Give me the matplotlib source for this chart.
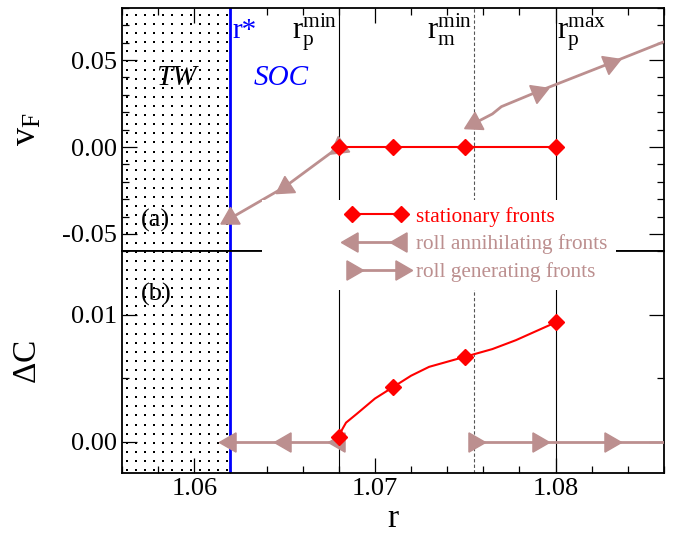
import numpy as np
import matplotlib
matplotlib.use('Agg')
import matplotlib.pyplot as plt
from matplotlib.lines import Line2D
from matplotlib.patches import Rectangle
from matplotlib.transforms import IdentityTransform
from matplotlib.ticker import MultipleLocator, FormatStrFormatter

plt.rcParams['font.family'] = ['Liberation Serif', 'DejaVu Serif']
plt.rcParams['mathtext.fontset'] = 'custom'
plt.rcParams['mathtext.rm'] = 'Liberation Serif'
plt.rcParams['mathtext.it'] = 'Liberation Serif:italic'
plt.rcParams['axes.unicode_minus'] = False

RED = '#ff0000'
ROSY = '#bc8f8f'
BLUE = '#0000ff'

# special r values
r_star = 1.062
r_p_min = 1.068
r_m_min = 1.0755
r_p_max = 1.080

# (a) front velocity
stat_r = [1.068, 1.071, 1.075, 1.080]
stat_v = [0.0, 0.0, 0.0, 0.0]
ann_r = [1.062, 1.065, 1.068]
ann_v = [-0.041, -0.023, 0.0]
gen_r = [1.0755, 1.0765, 1.077, 1.079, 1.083, 1.086]
gen_v = [0.0136, 0.0190, 0.0232, 0.0318, 0.0481, 0.0605]

# (b) Delta C
stat_dc = [0.0004, 0.0043, 0.0067, 0.0094]
stat_curve_r = [1.068, 1.0682, 1.0684, 1.069, 1.070, 1.071, 1.072, 1.073, 1.075, 1.0765, 1.0778, 1.080]
stat_curve_dc = [0.0004, 0.0010, 0.0015, 0.0022, 0.0034, 0.0043, 0.0052, 0.0059, 0.0067, 0.0073, 0.0080, 0.0094]
ann_dc = [0.0, 0.0, 0.0]
gen_r_b = [1.0755, 1.079, 1.083, 1.086]
gen_dc = [0.0, 0.0, 0.0, 0.0]

W, H = 677, 539
fig = plt.figure(figsize=(W / 100, H / 100), dpi=100)
ax1 = fig.add_axes([0.1802, 0.5336, 0.8006, 0.4519])
ax2 = fig.add_axes([0.1802, 0.1217, 0.8006, 0.4119])

ax1.set_xlim(1.056, 1.086)
ax2.set_xlim(1.056, 1.086)
ax1.set_ylim(-0.06, 0.08)
ax2.set_ylim(-0.0025, 0.015)


def tri_angles(ax, x, y, idx, back=False):
    pts = ax.transData.transform(np.column_stack([x, y]))
    out = []
    for i in idx:
        a = pts[max(i - 1, 0)]
        b = pts[min(i + 1, len(x) - 1)]
        th = np.degrees(np.arctan2(b[1] - a[1], b[0] - a[0]))
        if back:
            th += 180
        out.append(th - 90)
    return out


# dotted texture of the TW region (pixel grid, clipped to each axes)
x_star_px = ax1.transData.transform((r_star, 0))[0]
gx = np.arange(0.1802 * W + 5, x_star_px - 2, 9.1)
gy = H - np.arange(15, H, 9.1)
GX, GY = np.meshgrid(gx, gy)

for ax in (ax1, ax2):
    ax.scatter(GX.ravel(), GY.ravel(), s=2.6, c='black', marker='s', linewidths=0,
               transform=IdentityTransform(), zorder=0)
    ax.axvline(r_star, color=BLUE, lw=2.0, zorder=2)
    ax.axvline(r_p_min, color='black', lw=0.8, zorder=1)
    ax.axvline(r_p_max, color='black', lw=0.8, zorder=1)
    ax.axvline(r_m_min, color='#555555', lw=0.8, ls=(0, (3, 2)), zorder=1)
    for s in ax.spines.values():
        s.set_linewidth(1.3)
    ax.xaxis.set_major_locator(MultipleLocator(0.01))
    ax.xaxis.set_minor_locator(MultipleLocator(0.002))
    ax.tick_params(which='both', direction='in', left=True, right=True,
                   labelsize=19, width=0.9)
    ax.tick_params(which='major', length=10.5)
    ax.tick_params(which='minor', length=5)

ax1.tick_params(which='both', top=True, bottom=False, labelbottom=False)
ax2.tick_params(which='both', top=False, bottom=True)
ax1.yaxis.set_major_locator(MultipleLocator(0.05))
ax1.yaxis.set_minor_locator(MultipleLocator(0.01))
ax1.yaxis.set_major_formatter(FormatStrFormatter('%.2f'))
ax2.yaxis.set_major_locator(MultipleLocator(0.01))
ax2.yaxis.set_minor_locator(MultipleLocator(0.005))
ax2.yaxis.set_major_formatter(FormatStrFormatter('%.2f'))
ax2.xaxis.set_major_formatter(FormatStrFormatter('%.2f'))

ms_t = 16
ms_d = 8.5

# panel (a)
ax1.plot(ann_r, ann_v, color=ROSY, lw=2.0, zorder=3)
for xi, yi, ang in zip(ann_r, ann_v, tri_angles(ax1, ann_r, ann_v, range(len(ann_r)), back=True)):
    ax1.plot(xi, yi, marker=(3, 0, ang), ms=ms_t, color=ROSY, ls='none', zorder=4)
ax1.plot(gen_r, gen_v, color=ROSY, lw=2.0, zorder=3)
gi = [0, 3, 4]
angs = tri_angles(ax1, gen_r, gen_v, gi)
angs[0] += 180
for i, ang in zip(gi, angs):
    ax1.plot(gen_r[i], gen_v[i], marker=(3, 0, ang), ms=ms_t, color=ROSY, ls='none', zorder=4)
ax1.plot(stat_r, stat_v, color=RED, lw=1.5, marker='D', ms=ms_d, zorder=5)

# panel (b)
ax2.plot(ann_r, ann_dc, color=ROSY, lw=2.0, marker=(3, 0, 90), ms=ms_t, zorder=3)
ax2.plot(gen_r_b, gen_dc, color=ROSY, lw=2.0, zorder=3)
ax2.plot(gen_r_b[:3], gen_dc[:3], color=ROSY, ls='none', marker=(3, 0, -90), ms=ms_t, zorder=4)
ax2.plot(stat_curve_r, stat_curve_dc, color=RED, lw=1.5, zorder=5)
ax2.plot(stat_r, stat_dc, color=RED, ls='none', marker='D', ms=ms_d, zorder=5)

ax1.set_ylabel(r'v$_\mathrm{F}$', fontsize=26)
ax2.set_ylabel(r'$\Delta$C', fontsize=24)
ax1.yaxis.set_label_coords(-0.145, 0.5)
ax2.yaxis.set_label_coords(-0.145, 0.5)
ax2.set_xlabel('r', fontsize=24, labelpad=2)

# annotations
tr1 = ax1.get_xaxis_transform()
ax1.text(r_star + 0.0001, 0.875, 'r*', color=BLUE, fontsize=21, transform=tr1)
ax1.text(r_p_min - 0.0001, 0.875, r'$\mathrm{r}_\mathrm{p}^\mathrm{min}$', fontsize=22,
         ha='right', transform=tr1)
ax1.text(r_m_min - 0.0001, 0.875, r'$\mathrm{r}_\mathrm{m}^\mathrm{min}$', fontsize=22,
         ha='right', transform=tr1)
ax1.text(r_p_max + 0.0001, 0.875, r'$\mathrm{r}_\mathrm{p}^\mathrm{max}$', fontsize=22,
         ha='left', transform=tr1)
ax1.text(1.059, 0.682, 'TW', style='italic', fontsize=21, ha='center', transform=tr1)
ax1.text(1.0648, 0.682, 'SOC', style='italic', color=BLUE, fontsize=21, ha='center', transform=tr1)
ax1.text(0.035, 0.1, '(a)', fontsize=19, transform=ax1.transAxes)
ax2.text(0.035, 0.78, '(b)', fontsize=19, transform=ax2.transAxes)

# white box under the legend
fig.patches.append(Rectangle((262 / W, 1 - 290 / H), (616 - 262) / W, 90 / H,
                             transform=fig.transFigure, facecolor='white',
                             edgecolor='none', zorder=10))
handles = [
    Line2D([], [], color=RED, lw=1.5, marker='D', ms=ms_d),
    Line2D([], [], color=ROSY, lw=2.0, marker=(3, 0, 90), ms=ms_t),
    Line2D([], [], color=ROSY, lw=2.0, marker=(3, 0, -90), ms=ms_t),
]
labels = ['stationary fronts', 'roll annihilating fronts', 'roll generating fronts']
leg = fig.legend(handles, labels, loc='upper left', bbox_to_anchor=(346 / W, 1 - 207 / H),
                 frameon=False, numpoints=2, fontsize=15.3, handlelength=2.9,
                 handletextpad=0.4, labelspacing=0.36, borderpad=0, borderaxespad=0,
                 labelcolor='linecolor')
leg.set_zorder(11)

fig.savefig('out.png', dpi=100)
